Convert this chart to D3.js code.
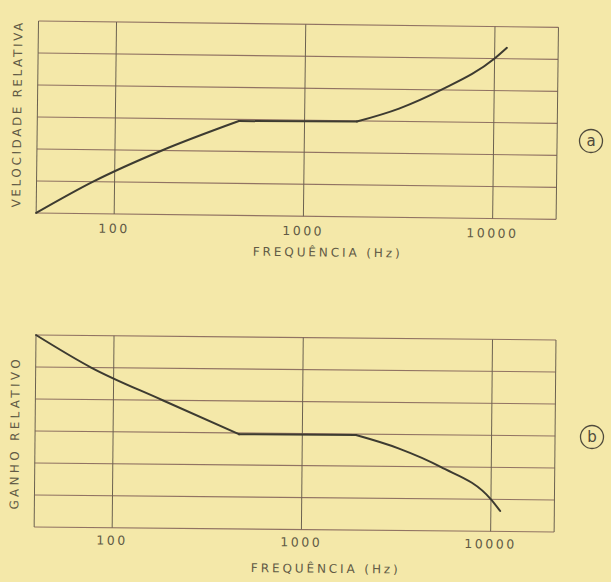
<!DOCTYPE html>
<html>
<head>
<meta charset="utf-8">
<script src="https://cdn.jsdelivr.net/npm/d3@7"></script>
<style>
  html, body { margin: 0; padding: 0; background: #f4e8a9; }
  svg { display: block; }
</style>
</head>
<body>
<div id="visualization"></div>
<script>
// tick labels along the frequency axis
const freqTicks = [100, 1000, 10000];
const gridLevels = [0, 1, 2, 3, 4, 5, 6];

// (a) velocidade relativa
const velFreq  = [38.7, 77, 177, 450, 1890, 3150, 5240, 10000, 11600];
const velValue = [0, 1, 2, 2.95, 2.98, 3.4, 4, 5, 5.34];
// index where the flat part starts / ends
const velBreaks = [3, 4];

// (b) ganho relativo
const gainFreq  = [38.7, 76, 182, 463, 1920, 3250, 5400, 10000, 11200];
const gainValue = [6, 5, 4, 2.96, 2.97, 2.56, 2, 1, 0.64];
const gainBreaks = [3, 4];

const W = 611, H = 582;
const plotW = 520, plotH = 192;

const svg = d3.select("#visualization")
    .append("svg")
    .attr("width", W)
    .attr("height", H);

svg.append("rect")
    .attr("width", W)
    .attr("height", H)
    .attr("fill", "#f4e8a9");

const x = d3.scaleLog().domain([38.7, 21650]).range([0, plotW]);
const y = d3.scaleLinear().domain([0, 6]).range([plotH, 0]);

const inkText = "#615a45";

function drawChart(opts) {
    let g = svg.append("g")
        .attr("transform", "translate(" + opts.left + "," + opts.top + ") rotate(" + opts.tilt + ")");

    // horizontal grid (reddish)
    g.append("g")
        .selectAll("line")
        .data(gridLevels)
        .enter().append("line")
        .attr("x1", 0)
        .attr("x2", plotW)
        .attr("y1", d => y(d))
        .attr("y2", d => y(d))
        .attr("stroke", "#917363")
        .attr("stroke-width", 1.1);

    // vertical grid at the decades
    g.append("g")
        .selectAll("line")
        .data(freqTicks)
        .enter().append("line")
        .attr("x1", d => x(d))
        .attr("x2", d => x(d))
        .attr("y1", 0)
        .attr("y2", plotH)
        .attr("stroke", "#6b6150")
        .attr("stroke-width", 1);

    // frame sides
    g.append("g")
        .selectAll("line")
        .data([0, plotW])
        .enter().append("line")
        .attr("x1", d => d)
        .attr("x2", d => d)
        .attr("y1", 0)
        .attr("y2", plotH)
        .attr("stroke", "#6b6150")
        .attr("stroke-width", 1);

    g.append("g")
        .selectAll("text")
        .data(freqTicks)
        .enter().append("text")
        .attr("x", d => x(d))
        .attr("y", plotH + opts.tickDy)
        .attr("text-anchor", "middle")
        .attr("font-family", "DejaVu Sans")
        .attr("font-size", 12.5)
        .attr("letter-spacing", 2.5)
        .attr("fill", inkText)
        .text(d => d);

    g.append("text")
        .attr("x", 292)
        .attr("y", plotH + opts.titleDy)
        .attr("text-anchor", "middle")
        .attr("font-family", "DejaVu Sans")
        .attr("font-size", 12)
        .attr("letter-spacing", 2.9)
        .attr("fill", inkText)
        .text("FREQUÊNCIA (Hz)");

    g.append("text")
        .attr("transform", "translate(-16," + opts.labelMid + ") rotate(-90)")
        .attr("text-anchor", "middle")
        .attr("font-family", "DejaVu Sans")
        .attr("font-size", 12)
        .attr("letter-spacing", opts.labelSpacing)
        .attr("fill", inkText)
        .text(opts.label);

    let line = d3.line()
        .x(d => x(d[0]))
        .y(d => y(d[1]))
        .curve(d3.curveMonotoneX);

    // slope, flat part and bend drawn as separate pieces so the corners stay sharp
    let pts = d3.zip(opts.freq, opts.value);
    let cuts = [0].concat(opts.breaks, [pts.length - 1]);
    let pieces = d3.pairs(cuts).map(p => pts.slice(p[0], p[1] + 1));

    g.append("g")
        .selectAll("path")
        .data(pieces)
        .enter().append("path")
        .attr("d", line)
        .attr("fill", "none")
        .attr("stroke", "#3d3b31")
        .attr("stroke-width", 2)
        .attr("stroke-linecap", "round");

    // circled letter
    let tag = svg.append("g")
        .attr("transform", "translate(" + opts.tagX + "," + opts.tagY + ")");
    tag.append("circle")
        .attr("r", 11.5)
        .attr("fill", "none")
        .attr("stroke", "#4f4a3c")
        .attr("stroke-width", 1.3);
    tag.append("text")
        .attr("y", 5)
        .attr("text-anchor", "middle")
        .attr("font-family", "DejaVu Sans")
        .attr("font-size", 15)
        .attr("fill", "#4f4a3c")
        .text(opts.tag);
}

drawChart({
    left: 38.5, top: 21, tilt: 0.7,
    freq: velFreq, value: velValue, breaks: velBreaks,
    label: "VELOCIDADE RELATIVA", labelMid: 93, labelSpacing: 2.6,
    tickDy: 19, titleDy: 40,
    tag: "a", tagX: 591, tagY: 141
});

drawChart({
    left: 36, top: 335, tilt: 0.55,
    freq: gainFreq, value: gainValue, breaks: gainBreaks,
    label: "GANHO RELATIVO", labelMid: 98, labelSpacing: 3.3,
    tickDy: 17, titleDy: 43,
    tag: "b", tagX: 592, tagY: 437
});
</script>
</body>
</html>
